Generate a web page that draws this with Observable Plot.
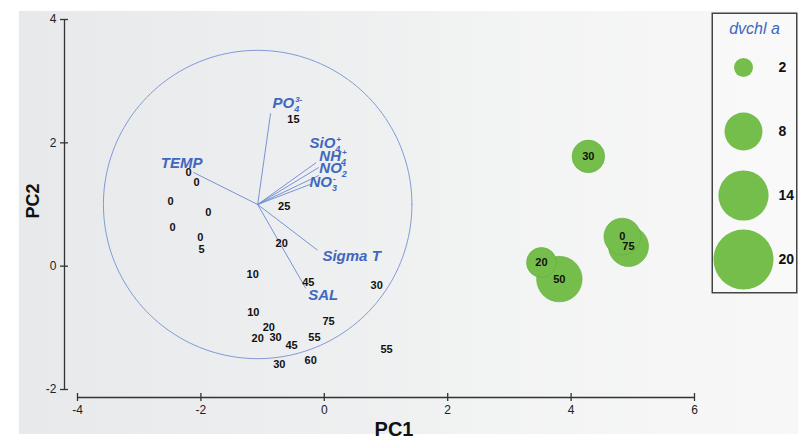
<!DOCTYPE html>
<html><head><meta charset="utf-8">
<script src="https://cdn.jsdelivr.net/npm/d3@7"></script>
<script src="https://cdn.jsdelivr.net/npm/@observablehq/plot@0.6"></script>
<style>
body{margin:0;background:#fff;}
#wrap{position:relative;width:798px;height:439px;overflow:hidden;}
#bg{position:absolute;left:19px;top:11px;width:779px;height:423px;background:linear-gradient(to right,#e8e9eb 0%,#eceeef 35%,#f2f3f3 60%,#f6f6f6 85%,#f7f7f7 100%);}
#main{position:absolute;left:0;top:0;}
#legend{position:absolute;left:711px;top:12px;}
</style></head><body>
<div id="wrap"><div id="bg"></div><div id="main"></div><div id="legend"></div></div>
<script>
// axes
const xTicks = [-4, -2, 0, 2, 4, 6];
const yTicks = [-2, 0, 2, 4];
// samples without dvchl a (depth labels)
const depthLabels = ["15","0","0","0","0","0","0","5","25","20","10","45","30","10","20","20","30","45","75","55","55","30","60"];
const depthPC1 = [-0.50,-2.20,-2.07,-2.49,-1.88,-2.46,-2.01,-1.99,-0.65,-0.69,-1.16,-0.26,0.85,-1.15,-0.90,-1.08,-0.79,-0.53,0.07,-0.16,1.01,-0.73,-0.22];
const depthPC2 = [2.38,1.52,1.36,1.05,0.87,0.63,0.47,0.27,0.97,0.37,-0.13,-0.26,-0.31,-0.75,-0.99,-1.17,-1.15,-1.28,-0.89,-1.15,-1.35,-1.59,-1.53];
// samples with dvchl a
const chlLabels = ["30","0","75","20","50"];
const chlPC1 = [4.28,4.83,4.93,3.52,3.81];
const chlPC2 = [1.78,0.48,0.32,0.06,-0.21];
const chlValues = [5.9,7.5,8.9,5.0,11.5];
// variable vectors (name = base + subscript + superscript)
const varBase = ["PO","TEMP","SiO","NH","NO","NO","Sigma T","SAL"];
const varSub  = ["4","","4","4","2","3","",""];
const varSup  = ["3-","","+","+","-","-","",""];
const varPC1 = [-0.87,-2.12,-0.13,-0.09,-0.09,-0.22,-0.11,-0.30];
const varPC2 = [2.48,1.52,1.68,1.60,1.47,1.33,0.26,-0.36];
const varLabelPC1 = [-0.84,-2.65,-0.24,-0.08,-0.08,-0.24,-0.03,-0.26];
const varLabelPC2 = [2.64,1.67,1.99,1.78,1.59,1.36,0.16,-0.47];
const vectorOrigin = [-1.08, 1.0];
const circleRadius = 2.5;
// legend
const legendValues = [2, 8, 14, 20];

const green = "#76be4b";
const blue = "#3f67bf";
const font = "'Liberation Sans', Arial, sans-serif";
const narrow = "'Liberation Sans Narrow', 'Arial Narrow', 'Liberation Sans', sans-serif";
const fmt = d => String(d);

const depth = depthLabels.map((t, i) => ({t, x: depthPC1[i], y: depthPC2[i]}));
const chl = chlLabels.map((t, i) => ({t, x: chlPC1[i], y: chlPC2[i], v: chlValues[i]}));
const vars = varBase.map((b, i) => ({n: b + varSub[i] + varSup[i], b, sub: varSub[i], sup: varSup[i], x: varPC1[i], y: varPC2[i], lx: varLabelPC1[i], ly: varLabelPC2[i]}));
const circle = d3.range(0, 361, 2).map(a => ({
  x: vectorOrigin[0] + circleRadius * Math.cos(a * Math.PI / 180),
  y: vectorOrigin[1] + circleRadius * Math.sin(a * Math.PI / 180)
}));

const main = Plot.plot({
  width: 798, height: 439,
  marginLeft: 77, marginRight: 104, marginTop: 19, marginBottom: 50,
  style: {background: "transparent", fontFamily: font, color: "#222"},
  x: {domain: [-4, 6]},
  y: {domain: [-2, 4]},
  r: {domain: [0, 20], range: [0, 30]},
  marks: [
    Plot.ruleX([xTicks[0]], {y1: yTicks[0], y2: yTicks[yTicks.length-1], dx: -13, stroke: "#333", strokeWidth: 1.3}),
    Plot.ruleY([yTicks[0]], {x1: xTicks[0], x2: xTicks[xTicks.length-1], dy: 8, stroke: "#333", strokeWidth: 1.3}),
    Plot.axisY({ticks: yTicks, tickFormat: fmt, tickSize: 8, dx: -9, tickPadding: 4, fontSize: 12, fontFamily: narrow, label: null, stroke: "#333", strokeWidth: 1.3, fill: "#222"}),
    Plot.axisX({ticks: xTicks, tickFormat: fmt, tickSize: 8, dy: 4, tickPadding: 4, fontSize: 12, fontFamily: narrow, label: null, stroke: "#333", strokeWidth: 1.3, fill: "#222"}),
    Plot.text(["PC1"], {frameAnchor: "bottom", lineAnchor: "bottom", dx: 8, dy: 46, fontSize: 20, fontWeight: "bold", fill: "#111"}),
    Plot.text(["PC2"], {frameAnchor: "left", rotate: -90, dx: -44, dy: 14, fontSize: 18, fontWeight: "bold", fill: "#111"}),
    Plot.line(circle, {x: "x", y: "y", stroke: "#7590d4", strokeWidth: 0.9}),
    Plot.link(vars, {x1: () => vectorOrigin[0], y1: () => vectorOrigin[1], x2: "x", y2: "y", stroke: "#6c89d0", strokeWidth: 0.9}),
    Plot.text(vars, {x: "lx", y: "ly", text: "n", textAnchor: "start", fontSize: 15, fontWeight: "bold", fontStyle: "italic", fill: blue}),
    Plot.text(depth, {x: "x", y: "y", text: "t", fontSize: 11, fontWeight: "bold", fill: "#111"}),
    Plot.dot(chl, {x: "x", y: "y", r: "v", fill: green, stroke: "#62ad3f", strokeWidth: 0.6}),
    Plot.text(chl, {x: "x", y: "y", text: "t", fontSize: 11, fontWeight: "bold", fill: "#111"})
  ]
});
// turn chemical labels into base text with subscript / superscript tspans
const ns = "http://www.w3.org/2000/svg";
main.querySelectorAll("text").forEach(el => {
  const v = vars.find(d => d.n === el.textContent && (d.sub || d.sup));
  if (!v) return;
  el.textContent = "";
  const base = document.createElementNS(ns, "tspan");
  base.textContent = v.b;
  el.appendChild(base);
  if (v.sub) {
    const s = document.createElementNS(ns, "tspan");
    s.textContent = v.sub;
    s.setAttribute("font-size", "9");
    s.setAttribute("dy", "4");
    el.appendChild(s);
  }
  if (v.sup) {
    const s = document.createElementNS(ns, "tspan");
    s.textContent = v.sup;
    s.setAttribute("font-size", "8");
    s.setAttribute("dx", v.sub ? "-4" : "0");
    s.setAttribute("dy", v.sub ? "-10" : "-6");
    el.appendChild(s);
  }
});
document.getElementById("main").append(main);

const legend = Plot.plot({
  width: 86, height: 281,
  margin: 0,
  style: {background: "transparent", fontFamily: font, overflow: "visible"},
  y: {type: "point", domain: legendValues, range: [54, 247], padding: 0, axis: null},
  r: {domain: [0, 20], range: [0, 30]},
  marks: [
    Plot.frame({stroke: "#444", strokeWidth: 1.5, inset: 0.75, fill: "rgba(255,255,255,0.25)"}),
    Plot.text(["dvchl a"], {frameAnchor: "top", dy: 10, fontSize: 16, fontStyle: "italic", fill: blue}),
    Plot.dot(legendValues, {y: d => d, r: d => d, frameAnchor: "left", dx: 32, fill: green}),
    Plot.text(legendValues, {y: d => d, text: d => String(d), frameAnchor: "left", dx: 67, textAnchor: "start", fontSize: 14, fontWeight: "bold", fill: "#111"})
  ]
});
document.getElementById("legend").append(legend);
</script>
</body></html>
